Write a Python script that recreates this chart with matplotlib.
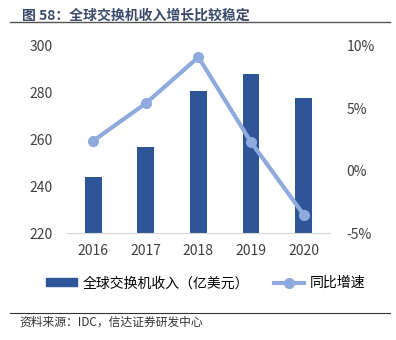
import matplotlib.pyplot as plt
import numpy as np
from matplotlib.lines import Line2D
from matplotlib.patches import Patch

plt.rcParams['font.family'] = ['Noto Sans CJK SC', 'DejaVu Sans']

# data
years = ['2016', '2017', '2018', '2019', '2020']
revenue = [243.9, 256.9, 280.9, 287.9, 277.9]   # 亿美元
growth = [2.4, 5.4, 9.1, 2.3, -3.5]             # %

bar_color = '#2E5597'
line_color = '#8FAADC'
text_color = '#404040'

fig = plt.figure(figsize=(3.96, 3.40), dpi=100)
ax = fig.add_axes([0.169, 0.314, 0.664, 0.551])
x = np.arange(len(years))
ax.bar(x, revenue, width=0.32, color=bar_color, zorder=2)
ax.set_ylim(220, 300)
ax.set_yticks([220, 240, 260, 280, 300])
ax.set_xlim(-0.5, len(years) - 0.5)
ax.set_xticks(x)
ax.set_xticklabels(years)

ax2 = ax.twinx()
ax2.plot(x, growth, color=line_color, lw=3, marker='o', ms=7, zorder=3)
ax2.set_ylim(-5, 10)
ax2.set_yticks([-5, 0, 5, 10])
ax2.set_yticklabels(['-5%', '0%', '5%', '10%'])

for a in (ax, ax2):
    for s in a.spines.values():
        s.set_visible(False)
    a.tick_params(length=0, labelsize=10, colors=text_color)
ax.spines['bottom'].set_visible(True)
ax.spines['bottom'].set_color('#D9D9D9')
ax.tick_params(axis='x', pad=8)
ax.tick_params(axis='y', pad=10)
ax2.tick_params(axis='y', pad=12)

# title and rules
fig.text(0.055, 0.955, '图 58：全球交换机收入增长比较稳定', fontsize=10, fontweight='bold',
         color='#3A4A6B', va='center')
fig.add_artist(Line2D([0.025, 0.985], [0.935, 0.935], color='#555555', lw=1))
fig.add_artist(Line2D([0.025, 0.985], [0.079, 0.079], color='#333333', lw=0.8))
fig.text(0.05, 0.052, '资料来源：IDC，信达证券研发中心', fontsize=8.5, style='italic',
         color='#333333', va='center')

handles = [Patch(color=bar_color),
           Line2D([], [], color=line_color, lw=3, marker='o', ms=7)]
fig.legend(handles, ['全球交换机收入（亿美元）', '同比增速'], loc='center',
           bbox_to_anchor=(0.52, 0.167), ncol=2, frameon=False, fontsize=10,
           handlelength=2.2, handleheight=0.5, columnspacing=1.8, handletextpad=0.4)

fig.savefig('out.png', dpi=100)
